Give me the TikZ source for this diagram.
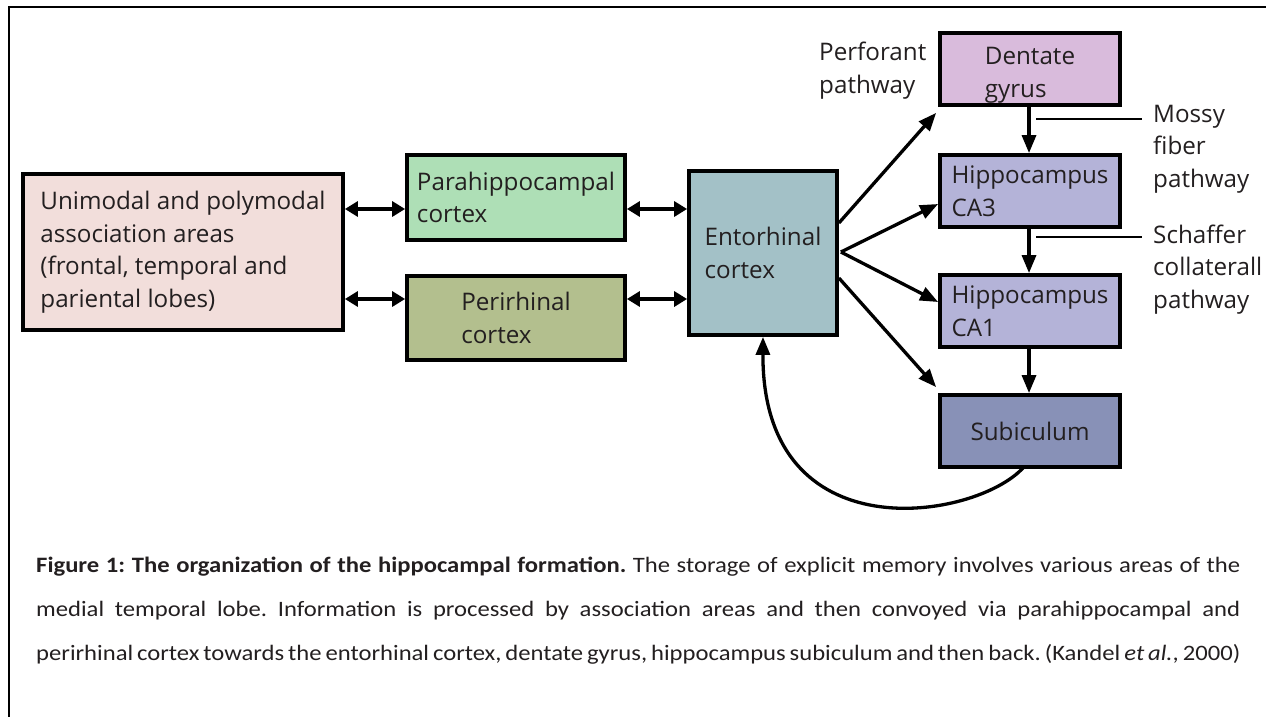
\documentclass[tikz,border=0pt]{standalone}
\usepackage{fontspec}
\setmainfont{Open Sans}
\newfontfamily\capfont[FakeStretch=1.12]{Carlito}
\usetikzlibrary{arrows.meta,calc}
\definecolor{txt}{HTML}{231F20}
\definecolor{cuni}{HTML}{F2DEDB}
\definecolor{cpara}{HTML}{AEDFB6}
\definecolor{cperi}{HTML}{B3BF8E}
\definecolor{cec}{HTML}{A3C1C7}
\definecolor{cdg}{HTML}{D9BBDC}
\definecolor{cca}{HTML}{B4B3D8}
\definecolor{csub}{HTML}{8891B7}
\newcommand{\boxfont}{\fontsize{24.2}{32.5}\selectfont}
\newcommand{\capline}[1]{\makebox[1204pt][s]{#1}}
\tikzset{
  box/.style={draw, line width=3.8pt, inner sep=0pt, align=left, font=\boxfont, text=txt},
  lbl/.style={inner sep=0pt, align=left, font=\boxfont, text=txt},
  arr/.style={line width=3.3pt, -{Triangle[length=18pt,width=14pt]}},
  darr/.style={line width=3.3pt, {Triangle[length=13pt,width=15pt]}-{Triangle[length=13pt,width=15pt]}},
  tick/.style={line width=2.7pt}
}
\begin{document}
\begin{tikzpicture}[x=1pt,y=-1pt]
\useasboundingbox (0,0) rectangle (1266,717);
\draw[line width=2.6pt] (9,717) -- (9,7) -- (1266,7);

\node[box, fill=cuni, minimum width=320pt, minimum height=156pt] (uni) at (183,252)
  {Unimodal and polymodal\\association areas\\(frontal, temporal and\\pariental lobes)\hspace*{8pt}};
\node[box, fill=cpara, minimum width=218pt, minimum height=85pt] (para) at (516,197.5)
  {Parahippocampal\\cortex};
\node[box, fill=cperi, minimum width=218pt, minimum height=84pt] (peri) at (516,318)
  {Perirhinal\\cortex};
\node[box, fill=cec, minimum width=148pt, minimum height=164pt] (ec) at (763,253)
  {Entorhinal\\cortex};
\node[box, fill=cdg, minimum width=180pt, minimum height=72pt, text depth=0pt] (dg) at (1030,69)
  {\rule{0pt}{24pt}Dentate\\gyrus};
\node[box, fill=cca, minimum width=180pt, minimum height=72pt] (ca3) at (1030,191)
  {Hippocampus\\CA3};
\node[box, fill=cca, minimum width=180pt, minimum height=72pt] (ca1) at (1030,311)
  {Hippocampus\\CA1};
\node[box, fill=csub, minimum width=180pt, minimum height=72pt] (sub) at (1030,431)
  {Subiculum};

\node[lbl, anchor=base west] (perf) at (819,93) {Perforant\\pathway};
\node[lbl, anchor=base west] (mossy) at (1153,187) {Mossy\\fiber\\pathway};
\node[lbl, anchor=base west] (schaf) at (1153,308) {Schaffer\\collaterall\\pathway};

\coordinate (r1) at (0,209);
\coordinate (r2) at (0,299);
\draw[darr] (uni.east |- r1) -- (para.west |- r1);
\draw[darr] (uni.east |- r2) -- (peri.west |- r2);
\draw[darr] (para.east |- r1) -- (ec.west |- r1);
\draw[darr] (peri.east |- r2) -- (ec.west |- r2);

\draw[arr] ($(ec.east)+(0,-30)$) -- ($(dg.south west)+(-2,6)$);
\draw[arr] ($(ec.east)+(2,-1)$) -- ($(ca3.west)+(0,13)$);
\draw[arr] ($(ec.east)+(2,-1)$) -- ($(ca1.west)+(0,-9)$);
\draw[arr] ($(ec.east)+(0,25)$) -- ($(sub.north west)+(-2,-6)$);

\draw[arr] ($(dg.south)+(-1,0)$) -- ($(ca3.north)+(-1,0)$);
\draw[arr] ($(ca3.south)+(-1,0)$) -- ($(ca1.north)+(-1,0)$);
\draw[arr] ($(ca1.south)+(-1,0)$) -- ($(sub.north)+(-1,0)$);

\draw[tick] ($(dg.south)+(6,12)$) -- ($(dg.south east)+(20,12)$);
\draw[tick] ($(ca3.south)+(6,8)$) -- ($(ca3.south east)+(20,8)$);

\coordinate (cs) at ($(sub.south)+(-7,-1)$);
\draw[arr] (cs) .. controls (975,520) and (762,555) .. (ec.south);

\node[anchor=north west, inner sep=0pt, align=left, text=txt,
  font=\capfont\fontsize{22}{44}\selectfont\frenchspacing] (cap) at (36,557)
 {\capline{\textbf{Figure 1: The organization of the hippocampal formation.} The storage of explicit memory involves various areas of the}\\
  \capline{medial temporal lobe. Information is processed by association areas and then convoyed via parahippocampal and}\\
  \capline{perirhinal cortex towards the entorhinal cortex, dentate gyrus, hippocampus subiculum and then back. (Kandel \textit{et al.}, 2000)}};
\end{tikzpicture}
\end{document}
